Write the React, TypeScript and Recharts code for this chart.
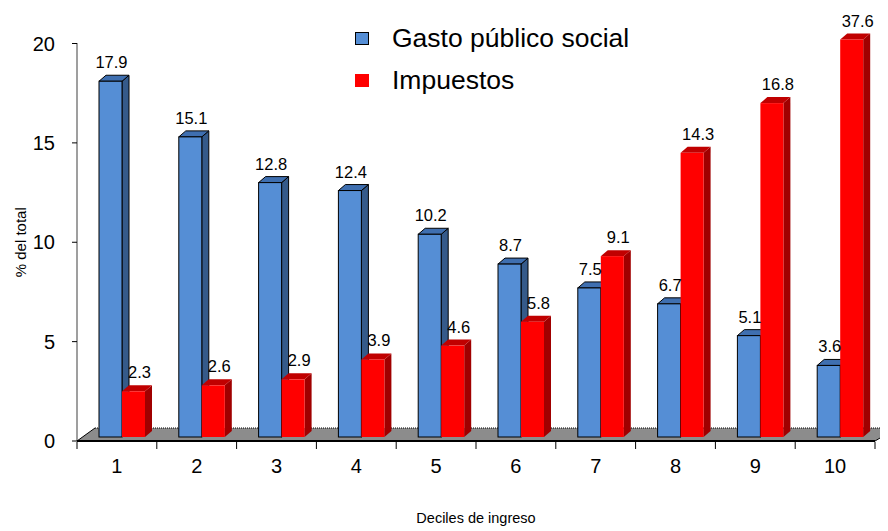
import React from 'react';
import { BarChart, Bar, XAxis, YAxis, Legend, LabelList, ReferenceArea } from 'recharts';

const categories = ['1', '2', '3', '4', '5', '6', '7', '8', '9', '10'];
const gastoSocial = [17.9, 15.1, 12.8, 12.4, 10.2, 8.7, 7.5, 6.7, 5.1, 3.6];
const impuestos = [2.3, 2.6, 2.9, 3.9, 4.6, 5.8, 9.1, 14.3, 16.8, 37.6];
const yTicks = [0, 5, 10, 15, 20];
const seriesNames = ['Gasto público social', 'Impuestos'];
const Y_MAX = 20;

const data = categories.map((c, i) => ({ decil: c, gasto: gastoSocial[i], impuestos: impuestos[i] }));

const FONT = '"Liberation Sans", Arial, Helvetica, sans-serif';
const W = 880;
const H = 523;
const MARGIN = { top: 35.5, right: 13, left: 19, bottom: 0 };
const BAND = (W - MARGIN.left - MARGIN.right - 50) / categories.length;

const DX = 5;
const DY = -4;
const DEPTH_X = 7;
const DEPTH_Y = 6;

const palette = {
  blue: { front: '#558ED5', top: '#3F6FB0', side: '#355A8A', stroke: '#000' },
  red: { front: '#FF0000', top: '#C00000', side: '#A00000', stroke: 'none' },
};

const makeBar3D = (c: typeof palette.blue) => (props: any) => {
  const { x, y, width, height } = props;
  if (width == null || height == null) return null;
  const fx = x + DX;
  const fy = y + DY;
  const sw = c.stroke === 'none' ? 0 : 1;
  const top = `${fx},${fy} ${fx + DEPTH_X},${fy - DEPTH_Y} ${fx + width + DEPTH_X},${fy - DEPTH_Y} ${fx + width},${fy}`;
  const side = `${fx + width},${fy} ${fx + width + DEPTH_X},${fy - DEPTH_Y} ${fx + width + DEPTH_X},${fy + height - DEPTH_Y} ${fx + width},${fy + height}`;
  return (
    <g>
      <polygon points={side} fill={c.side} stroke={c.stroke} strokeWidth={sw} />
      <polygon points={top} fill={c.top} stroke={c.stroke} strokeWidth={sw} />
      <rect x={fx} y={fy} width={width} height={height} fill={c.front} stroke={c.stroke} strokeWidth={sw} />
    </g>
  );
};

const makeLabel = (values: number[], shift: number) => (props: any) => {
  const { x, y, width, index } = props;
  return (
    <text
      x={x + DX + width / 2 + shift}
      y={y + DY - 13}
      textAnchor="middle"
      fontSize={16.5}
      fontFamily={FONT}
      fill="#000"
    >
      {values[index].toFixed(1)}
    </text>
  );
};

const Floor = (props: any) => {
  const { x, y, width, height } = props;
  const b = y + height;
  const pts = `${x},${b} ${x + 18},${b - 13} ${x + width + 22},${b - 13} ${x + width},${b}`;
  return (
    <g>
      <polygon points={pts} fill="#8C8C8C" />
      <line x1={x + 18} y1={b - 13} x2={x + width + 22} y2={b - 13} stroke="#000" strokeDasharray="1 1" />
      <line x1={x} y1={b} x2={x + 18} y2={b - 13} stroke="#000" />
      <line x1={x + width} y1={b} x2={x + width + 22} y2={b - 13} stroke="#000" />
    </g>
  );
};

const XTick = (props: any) => {
  const { x, y, payload, index } = props;
  const half = payload && payload.offset ? payload.offset : BAND / 2;
  const last = index === categories.length - 1;
  return (
    <g>
      <line x1={x - half} y1={y + 1} x2={x - half} y2={y + 8} stroke="#000" />
      {last && <line x1={x + half} y1={y + 1} x2={x + half} y2={y + 8} stroke="#000" />}
      <text x={x} y={y + 32} textAnchor="middle" fontSize={20} fontFamily={FONT} fill="#000">
        {payload.value}
      </text>
    </g>
  );
};

const LegendContent = () => (
  <div style={{ fontFamily: FONT, fontSize: 26.5, color: '#000', lineHeight: 1 }}>
    {seriesNames.map((n, i) => (
      <div key={n} style={{ display: 'flex', alignItems: 'center', height: 42 }}>
        <div
          style={{
            width: i === 0 ? 12 : 14,
            height: i === 0 ? 11 : 13,
            background: i === 0 ? palette.blue.front : palette.red.front,
            border: i === 0 ? '1px solid #000' : 'none',
            marginRight: 23,
          }}
        />
        <span style={{ whiteSpace: 'nowrap' }}>{n}</span>
      </div>
    ))}
  </div>
);

export default function App() {
  return (
    <BarChart width={W} height={H} data={data} margin={MARGIN} barGap={0} barSize={23}>
      <XAxis
        dataKey="decil"
        height={90}
        axisLine={{ stroke: '#000', strokeWidth: 2 }}
        tickLine={false}
        tickSize={0}
        tickMargin={0}
        tick={<XTick />}
        interval={0}
        label={{ value: 'Deciles de ingreso', position: 'insideBottom', offset: 8, fontSize: 14.5, fontFamily: FONT, fill: '#000' }}
      />
      <YAxis
        width={50}
        domain={[0, Y_MAX]}
        ticks={yTicks}
        interval={0}
        axisLine={{ stroke: '#000', strokeWidth: 1.5, strokeDasharray: '1 1' }}
        tickLine={{ stroke: '#000' }}
        tickSize={5}
        tickMargin={17}
        tick={{ fill: '#000', fontSize: 20, fontFamily: FONT }}
        label={{
          value: '% del total',
          angle: -90,
          position: 'insideLeft',
          offset: -6,
          style: { textAnchor: 'middle', fontSize: 15, fontFamily: FONT, fill: '#000' },
        }}
      />
      <ReferenceArea y1={0} y2={0.5} ifOverflow="visible" shape={Floor} />
      <Legend
        layout="vertical"
        align="center"
        verticalAlign="middle"
        content={<LegendContent />}
        wrapperStyle={{ top: 9, left: 347, width: 340, height: 84 }}
      />
      <Bar
        dataKey="gasto"
        name={seriesNames[0]}
        isAnimationActive={false}
        shape={makeBar3D(palette.blue)}
      >
        <LabelList dataKey="gasto" content={makeLabel(gastoSocial, 1)} />
      </Bar>
      <Bar
        dataKey={(d: any) => Math.min(d.impuestos, Y_MAX)}
        name={seriesNames[1]}
        isAnimationActive={false}
        shape={makeBar3D(palette.red)}
      >
        <LabelList dataKey="impuestos" content={makeLabel(impuestos, 6)} />
      </Bar>
    </BarChart>
  );
}
